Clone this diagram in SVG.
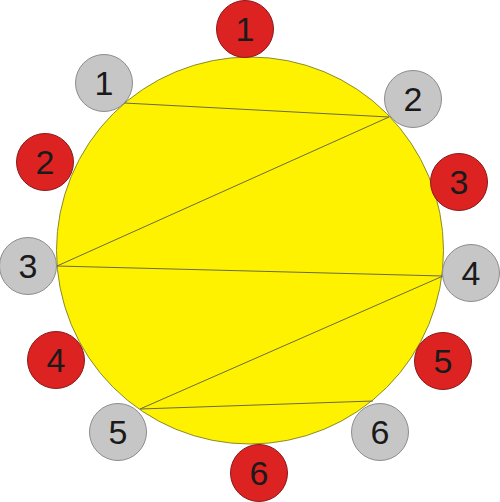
<svg xmlns="http://www.w3.org/2000/svg" width="500" height="502" viewBox="0 0 500 502">
<style>
.r{fill:#dd2222;stroke:#8a1a1a;stroke-width:1}
.g{fill:#c6c6c6;stroke:#8c8c8c;stroke-width:1}
.t{font-family:"Liberation Sans",Arial,sans-serif;font-size:34px;fill:#1a1a1a;text-anchor:middle}
.c{stroke:#6a6a40;stroke-width:1;fill:none}
</style>
<rect width="500" height="502" fill="#ffffff"/>
<g id="sun"><circle cx="250" cy="250.5" r="193.5" fill="#fff200" stroke="#8a8a30" stroke-width="1"/></g>
<g id="connectors">
<polyline class="c" points="124,103 389,117 57,266 443,276 140,409 373,401"/>
</g>
<g id="r1"><circle class="r" cx="245" cy="29" r="28.5"/><text class="t" x="245" y="41">1</text></g>
<g id="r2"><circle class="r" cx="45" cy="162" r="28.5"/><text class="t" x="45" y="174">2</text></g>
<g id="r3"><circle class="r" cx="459" cy="182" r="28.5"/><text class="t" x="459" y="194">3</text></g>
<g id="r4"><circle class="r" cx="56" cy="360" r="28.5"/><text class="t" x="56" y="372">4</text></g>
<g id="r5"><circle class="r" cx="443" cy="361" r="28.5"/><text class="t" x="443" y="373">5</text></g>
<g id="r6"><circle class="r" cx="259" cy="473" r="28.5"/><text class="t" x="259" y="485">6</text></g>
<g id="g1"><circle class="g" cx="104" cy="83" r="28.5"/><text class="t" x="104" y="95">1</text></g>
<g id="g2"><circle class="g" cx="413" cy="99" r="28.5"/><text class="t" x="413" y="111">2</text></g>
<g id="g3"><circle class="g" cx="28" cy="266" r="28.5"/><text class="t" x="28" y="278">3</text></g>
<g id="g4"><circle class="g" cx="471" cy="273" r="28.5"/><text class="t" x="471" y="285">4</text></g>
<g id="g5"><circle class="g" cx="118" cy="432" r="28.5"/><text class="t" x="118" y="444">5</text></g>
<g id="g6"><circle class="g" cx="380" cy="432" r="28.5"/><text class="t" x="380" y="444">6</text></g>
</svg>
